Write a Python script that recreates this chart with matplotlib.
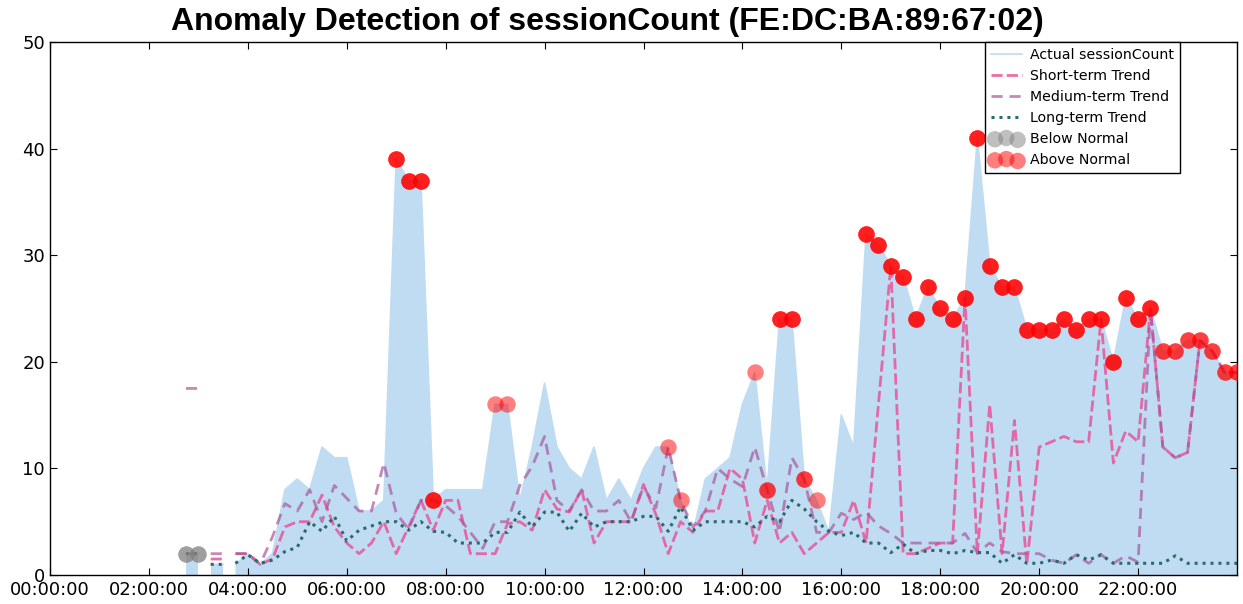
import numpy as np
import matplotlib
matplotlib.use('Agg')
import matplotlib.pyplot as plt

# 15-minute slots of the day (slot 11 = 02:45, slot 96 = 24:00)
slots = np.arange(11, 97)
gaps_after = [12, 14]   # no readings between these slots and the next

actual = [2, 2,
          1, 1,
          1, 2, 1, 2, 8, 9, 8, 12, 11, 11,
          6, 6, 7, 39, 37, 37, 7, 8, 8, 8,
          8, 16, 16, 7, 12, 18, 12, 10, 9, 12,
          7, 9, 7, 10, 12, 12, 7, 4, 9, 10,
          11, 16, 19, 8, 24, 24, 9, 7, 4, 15,
          12, 32, 31, 29, 28, 24, 27, 25, 24, 26,
          41, 29, 27, 27, 23, 23, 23, 24, 23, 24,
          24, 20, 26, 24, 25, 21, 21, 22, 22, 21,
          19, 19]

short_trend = [2, 2,
               1.5, 1.5,
               2, 2, 1, 1.5, 4.5, 5, 5, 7.5, 4.5, 3,
               2, 3, 5, 2, 4.5, 7, 4.2, 7, 7, 2,
               2, 2, 4.8, 5, 4.2, 8, 6.2, 5.9, 8, 3,
               5, 5, 5, 8.5, 5.7, 2, 5, 4, 6, 6,
               10, 9, 3, 7, 3, 4, 2, 3, 4, 4,
               7, 3, 16, 29, 2, 2, 2.5, 3, 3, 26,
               2, 16, 2, 14.5, 1, 12, 12.5, 13, 12.5, 12.5,
               24, 10.5, 13.5, 12.5, 25, 12, 11, 11.5, 22, 21,
               19, 19]

medium_trend = [17.5, 17.5,
                2, 2,
                2, 2, 1, 3.6, 6.7, 6, 8, 5, 8.4, 7.2,
                6, 6, 10.5, 5.8, 4.3, 7, 7, 6.5, 5.5, 4,
                2.5, 5, 5, 8.4, 10.2, 13, 7, 6, 8, 6,
                6, 7, 5, 8.3, 6.3, 12, 7, 4.5, 6, 10,
                9, 8.3, 12, 8, 4, 11, 9, 4, 4, 5.8,
                5.2, 5.9, 4.6, 3.9, 3, 3, 3, 3, 3, 3.9,
                2.1, 3, 2.2, 2, 2, 2, 1.4, 1.1, 1.9, 1.1,
                1.9, 1.1, 1.8, 1.2, 25, 12, 11, 11.5, 22, 21,
                19, 19]

long_trend = [2, 2,
              1, 1,
              1.1, 1.9, 1.1, 1.4, 2.2, 2.6, 5, 4.1, 5.5, 3.2,
              4.2, 4.6, 5, 5, 4.2, 5, 4.1, 4, 3, 3,
              3, 4, 4, 5.9, 4.5, 5.9, 5.9, 4.1, 5.8, 4.5,
              5, 5, 5, 5.5, 5.5, 4.1, 6.4, 4.2, 5, 5,
              5, 5, 4.5, 5.5, 5, 7, 6.2, 5, 4.1, 3.7,
              4, 3, 3, 2.1, 2.9, 2, 2.3, 2.3, 2, 2.3,
              2.1, 2.1, 1.1, 1.9, 1.1, 1.1, 1.4, 1.1, 1.9, 1.4,
              1.9, 1.1, 1.1, 1.1, 1.1, 1.1, 1.8, 1.1, 1.1, 1.1,
              1.1, 1.1]

# anomalies: slot and how many of the three trends flagged it
above_slots = [28, 29, 30, 31, 36, 37, 50, 51, 57, 58, 59, 60, 61, 62] + list(range(66, 97))
above_hits = [3, 3, 3, 3, 1, 1, 1, 1, 1, 2, 3, 3, 2, 1] + [3] * 24 + [2] * 7
below_slots = [11, 12]
below_hits = [2, 2]

xtick_hours = list(range(0, 24, 2))


def hours(s):
    return np.asarray(s, dtype=float) / 4.0


def with_gaps(y):
    t = hours(slots)
    y = np.asarray(y, dtype=float)
    pos = [list(slots).index(g) + 1 for g in gaps_after]
    t = np.insert(t, pos, t[np.array(pos) - 1] + 0.125)
    y = np.insert(y, pos, np.nan)
    return t, y


fig = plt.figure(figsize=(12.43, 6.04), dpi=100)
ax = fig.add_axes([0.0402, 0.048, 0.955, 0.8825])

t, a = with_gaps(actual)
ax.fill_between(t, 0, a, color='#bfdcf2', linewidth=0)
ax.plot(t, a, color='#bfdcf2', lw=1.2, label='Actual sessionCount')

_, s = with_gaps(short_trend)
ax.plot(t, s, color='#e8559a', lw=2, ls=(0, (4, 1.5)), alpha=0.85, label='Short-term Trend')
_, m = with_gaps(medium_trend)
ax.plot(t, m, color='#a8579e', lw=2, ls=(0, (4, 2.5)), alpha=0.7, label='Medium-term Trend')
_, l = with_gaps(long_trend)
ax.plot(t, l, color='#2c6a6e', lw=2.2, ls=(0, (1, 1.6)), label='Long-term Trend')

ab_t = hours(above_slots)
ab_y = np.array([actual[list(slots).index(k)] for k in above_slots], dtype=float)
ab_h = np.array(above_hits)
be_t = hours(below_slots)
be_y = np.array([actual[list(slots).index(k)] for k in below_slots], dtype=float)
be_h = np.array(below_hits)

for k in range(1, 4):
    sel = be_h >= k
    if sel.any():
        ax.scatter(be_t[sel], be_y[sel], s=140, color='grey', alpha=0.5, linewidths=0,
                   label='Below Normal' if k == 1 else None, zorder=3)
    sel = ab_h >= k
    ax.scatter(ab_t[sel], ab_y[sel], s=140, color='red', alpha=0.5, linewidths=0,
               label='Above Normal' if k == 1 else None, zorder=3)

ax.set_xlim(0, 24)
ax.set_ylim(0, 50)
ax.set_xticks(xtick_hours)
ax.set_xticklabels(['%02d:00:00' % h for h in xtick_hours])
ax.set_yticks(range(0, 51, 10))
ax.tick_params(direction='in', top=True, right=True, labelsize=13, length=5)
ax.tick_params(axis='x', pad=4)
for sp in ax.spines.values():
    sp.set_linewidth(1)
    sp.set_color('black')

leg = ax.legend(loc='upper right', bbox_to_anchor=(0.952, 1.0), borderaxespad=0,
                fontsize=10.2, scatterpoints=3, fancybox=False, framealpha=1,
                edgecolor='black', handlelength=2.2, handletextpad=0.6,
                labelspacing=0.5, borderpad=0.4)
leg.get_frame().set_linewidth(1)

fig.text(0.489, 0.963, 'Anomaly Detection of sessionCount (FE:DC:BA:89:67:02)',
         ha='center', va='center', fontsize=23, fontweight='bold',
         family='Liberation Sans')

fig.savefig('out.png', dpi=100)
